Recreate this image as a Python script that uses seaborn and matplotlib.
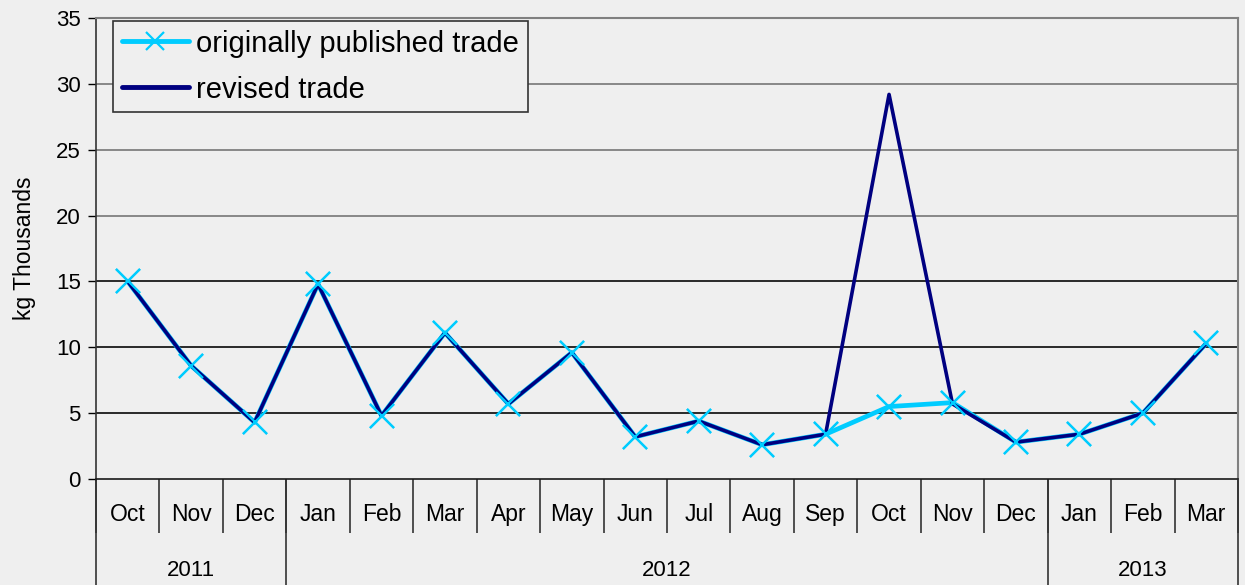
import matplotlib
matplotlib.use("Agg")
import matplotlib.pyplot as plt
import matplotlib.transforms as mtransforms
import seaborn as sns
import pandas as pd

months = ["Oct", "Nov", "Dec", "Jan", "Feb", "Mar", "Apr", "May", "Jun",
          "Jul", "Aug", "Sep", "Oct", "Nov", "Dec", "Jan", "Feb", "Mar"]
years = ["2011", "2012", "2013"]
year_spans = [(0, 2), (3, 14), (15, 17)]
original = [15.0, 8.6, 4.3, 14.8, 4.8, 11.1, 5.7, 9.6, 3.2, 4.4, 2.6, 3.4, 5.5, 5.8, 2.8, 3.4, 5.0, 10.3]
revised = [15.0, 8.6, 4.3, 14.8, 4.8, 11.1, 5.7, 9.6, 3.2, 4.4, 2.6, 3.4, 29.2, 5.7, 2.8, 3.4, 5.0, 10.3]
yticks = [0, 5, 10, 15, 20, 25, 30, 35]

sns.set_style("white")
plt.rcParams["font.family"] = ["Liberation Sans", "DejaVu Sans"]
plt.rcParams["text.color"] = "black"
plt.rcParams["axes.labelcolor"] = "black"
plt.rcParams["xtick.color"] = "black"
plt.rcParams["ytick.color"] = "black"

BG = "#EFEFEF"
W, H = 1245, 585
fig = plt.figure(figsize=(W / 100, H / 100), dpi=100, facecolor=BG)
ax = fig.add_axes([96 / W, 1 - 479 / H, (1238 - 96) / W, (479 - 18) / H])
ax.set_facecolor(BG)

pos = list(range(len(months)))
df = pd.DataFrame({"pos": pos, "original": original, "revised": revised})

sns.lineplot(data=df, x="pos", y="original", ax=ax, color="#00CCFF", lw=3.4,
             marker="x", markersize=17, markeredgewidth=1.6, markeredgecolor="#00CCFF",
             label="originally published trade", zorder=3)
sns.lineplot(data=df, x="pos", y="revised", ax=ax, color="#000080", lw=2.6,
             label="revised trade", zorder=4)
# redraw markers on top
ax.plot(pos, original, ls="none", marker="x", markersize=17, markeredgewidth=1.6,
        color="#00CCFF", zorder=5)

ax.set_xlim(-0.5, len(months) - 0.5)
ax.set_ylim(0, 35)
ax.set_yticks(yticks)
ax.tick_params(axis="y", length=6, width=1, color="black", labelsize=16, pad=5,
               left=True, direction="out")
ax.set_ylabel("kg Thousands", fontsize=16.5, labelpad=14)
ax.set_xlabel("")

# gridlines
for v in yticks[1:]:
    ax.axhline(v, color="#808080" if v >= 20 else "#1A1A1A", lw=1.3, zorder=1)

# x axis: month labels
ax.set_xticks(pos)
ax.set_xticklabels(months, fontsize=16.5)
ax.tick_params(axis="x", which="major", length=0, pad=17, bottom=True)
ax.set_xticks([p - 0.5 for p in range(len(months) + 1)], minor=True)
ax.tick_params(axis="x", which="minor", length=39, width=1.2, color="#333333",
               direction="out", bottom=True)

# year level
sec = ax.secondary_xaxis("bottom")
bounds = [year_spans[0][0] - 0.5] + [s[1] + 0.5 for s in year_spans]
sec.set_xticks(bounds)
sec.set_xticklabels([""] * len(bounds))
sec.tick_params(axis="x", length=77, width=1.2, color="#333333", direction="out")
sec.spines["bottom"].set_visible(False)
trans = mtransforms.blended_transform_factory(ax.transData, ax.transAxes)
for yr, (a, b) in zip(years, year_spans):
    ax.annotate(yr, xy=((a + b) / 2, 0), xycoords=trans, xytext=(0, -66),
                textcoords="offset points", ha="center", va="center", fontsize=16,
                annotation_clip=False)

for s in ["top", "right"]:
    ax.spines[s].set_color("#808080")
    ax.spines[s].set_linewidth(1.5)
ax.spines["left"].set_color("#333333")
ax.spines["bottom"].set_color("#1A1A1A")
ax.spines["left"].set_linewidth(1.2)
ax.spines["bottom"].set_linewidth(1.2)

leg = ax.legend(loc="upper left", bbox_to_anchor=(0.015, 0.994), fontsize=21,
                frameon=True, fancybox=False, edgecolor="#333333", facecolor=BG,
                framealpha=1, handlelength=2.3, borderpad=0.3, labelspacing=0.62,
                handletextpad=0.25, borderaxespad=0, markerscale=0.75)
leg.get_frame().set_linewidth(1.2)
for h in leg.legend_handles:
    h.set_linewidth(3.5)

fig.savefig("out.png", dpi=100, facecolor=BG)
